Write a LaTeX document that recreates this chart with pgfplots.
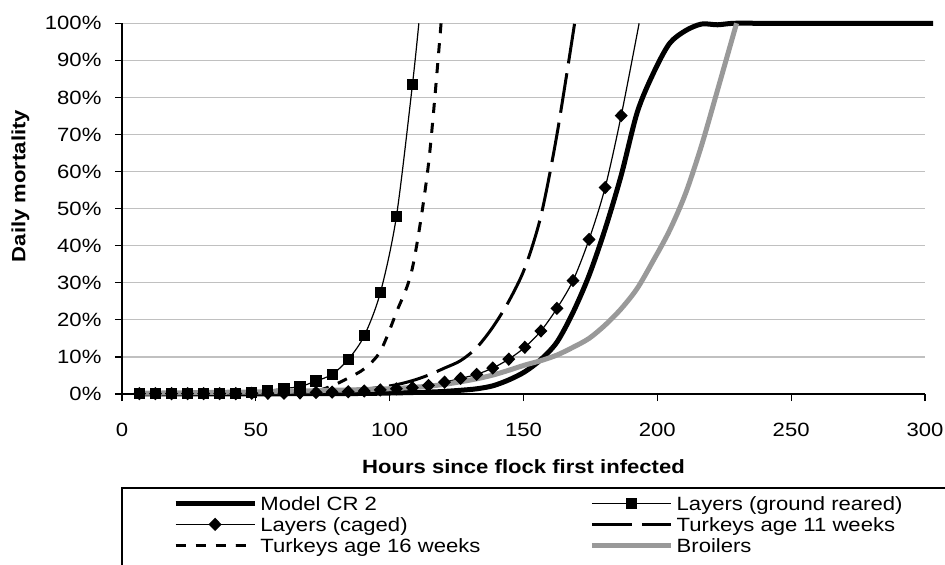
\documentclass[border=0pt]{standalone}
\usepackage{fontspec}
\setmainfont[FakeStretch=1.15]{Liberation Sans}
\usepackage{pgfplots}
\pgfplotsset{compat=1.18}
\definecolor{broiler}{HTML}{999999}
\definecolor{gridgray}{HTML}{C0C0C0}
\newcommand\chartfont{\fontsize{9.6bp}{11bp}\selectfont}

\begin{document}
\begin{tikzpicture}
\begin{axis}[
    at={(61bp,85.5bp)}, anchor=south west,
    scale only axis, width=401.5bp, height=185.35bp,
    xmin=0, xmax=300, ymin=0, ymax=100,
    xtick={0,50,...,300}, ytick={0,10,...,100},
    axis lines*=left,
    axis line style={black, line width=0.6bp},
    tick align=outside, major tick length=3.5bp,
    tick style={black, line width=0.6bp},
    ymajorgrids, grid style={gridgray, line width=0.6bp},
    clip=false,
    /pgf/number format/assume math mode=true,
    yticklabel={\pgfmathprintnumber{\tick}\%},
    ticklabel style={font=\chartfont},
    xticklabel style={anchor=center, inner sep=0pt, yshift=-14.5bp},
    yticklabel style={anchor=east, inner sep=0pt, xshift=-6.6bp},
    xlabel={\textbf{Hours since flock first infected}},
    ylabel={\textbf{Daily mortality}},
    every axis x label/.style={at={(rel axis cs:0.5,-0.1961)}, anchor=center, font=\chartfont},
    every axis y label/.style={at={(rel axis cs:-0.1264,0.561)}, rotate=90, anchor=center, font=\chartfont},
    legend columns=2,
    legend cell align=left,
    legend style={at={(rel axis cs:0,0)}, anchor=north west, yshift=-49.25bp,
        draw=none, fill=none, inner xsep=25.35bp, inner ysep=0pt,
        row sep=0pt, column sep=0pt,
        nodes={inner sep=0pt, text height=8.7bp, text depth=1.8bp, font=\chartfont},
        /tikz/every odd column/.append style={column sep=1.65bp}},
    legend image code/.code={\draw[#1, mark indices={2}]
        plot coordinates {(0bp,0bp) (19.75bp,0bp) (39.5bp,0bp)};},
    every axis plot/.append style={smooth, tension=0.5},
]
% Model CR 2
\addplot[black, line width=2.5bp] coordinates {
    (6.5,0.05) (18.5,0.05) (30.5,0.05) (42.5,0.05) (54.5,0.05) (66.5,0.08)
    (78.5,0.1) (90.5,0.15) (102.5,0.3) (108.5,0.4) (114.5,0.5) (120.5,0.7)
    (126.5,1.0) (132.5,1.4) (138.5,2.2) (144.5,3.8) (150.5,6.0) (156.5,9.3)
    (162.5,14.0) (168.5,22.0) (174.5,32.0) (180.5,44.5) (186.5,59.0)
    (192.5,76.0) (198.5,86.5) (204.5,94.5) (210.5,98.0) (216.5,99.8)
    (222.5,99.6) (228.5,100) (240,100) (260,100) (280,100) (303,100)
};
\addlegendentry{\makebox[164.5bp][l]{Model CR 2}}

% Layers (ground reared)
\addplot[black, line width=0.6bp, mark=square*, mark size=2.5bp,
    mark indices={1,...,18}] coordinates {
    (6.5,0.2) (12.5,0.2) (18.5,0.2) (24.5,0.2) (30.5,0.2) (36.5,0.2)
    (42.5,0.2) (48.5,0.4) (54.5,1.0) (60.5,1.5) (66.5,2.0) (72.5,3.5)
    (78.5,5.3) (84.5,9.3) (90.5,15.7) (96.5,27.3) (102.5,47.8) (108.5,83.4)
    (110.9,100)
};
\addlegendentry{\makebox[164.5bp][l]{Layers (ground reared)}}

% Layers (caged)
\addplot[black, line width=0.6bp, mark=diamond*, mark size=2.9bp,
    mark options={xscale=1.3}, mark indices={1,...,31}] coordinates {
    (6.5,0.1) (12.5,0.1) (18.5,0.1) (24.5,0.1) (30.5,0.1) (36.5,0.1)
    (42.5,0.1) (48.5,0.2) (54.5,0.2) (60.5,0.2) (66.5,0.3) (72.5,0.4)
    (78.5,0.5) (84.5,0.6) (90.5,0.8) (96.5,1.1) (102.5,1.4) (108.5,1.7)
    (114.5,2.3) (120.5,3.2) (126.5,4.2) (132.5,5.3) (138.5,7.0) (144.5,9.4)
    (150.5,12.6) (156.5,17.0) (162.5,23.1) (168.5,30.6) (174.5,41.7)
    (180.5,55.7) (186.5,75.1) (193.2,100)
};
\addlegendentry{\makebox[164.5bp][l]{Layers (caged)}}

% Turkeys age 11 weeks
\addplot[black, line width=1.5bp, dash pattern=on 20bp off 5bp] coordinates {
    (6.5,0.05) (30.5,0.05) (54.5,0.1) (66.5,0.2) (72.5,0.4) (78.5,0.6)
    (84.5,0.9) (90.5,1.3) (96.5,1.8) (102.5,2.5) (108.5,3.6) (114.5,5.1)
    (120.5,7.0) (126.5,9.0) (132.5,12.5) (138.5,18.0) (144.5,25.0)
    (150.5,34.0) (156.5,48.0) (162.5,70.0) (169.1,100)
};
\addlegendentry{\makebox[164.5bp][l]{Turkeys age 11 weeks}}

% Turkeys age 16 weeks
\addplot[black, line width=1.5bp, dash pattern=on 5bp off 5bp] coordinates {
    (6.5,0.05) (30.5,0.05) (54.5,0.05) (60.5,0.1) (66.5,0.3) (72.5,0.8)
    (78.5,2.2) (84.5,4.3) (90.5,6.8) (96.5,11.5) (102.5,22.0) (108.5,34.0)
    (114.5,62.0) (119.2,100)
};
\addlegendentry{\makebox[164.5bp][l]{Turkeys age 16 weeks}}

% Broilers
\addplot[broiler, line width=2.5bp] coordinates {
    (6.5,0.2) (18.5,0.3) (30.5,0.4) (42.5,0.5) (54.5,0.6) (66.5,0.8)
    (78.5,1.0) (90.5,1.2) (102.5,1.5) (108.5,1.8) (114.5,2.1) (120.5,2.6)
    (126.5,3.3) (132.5,4.1) (138.5,5.1) (144.5,6.4) (150.5,7.8) (156.5,9.0)
    (162.5,10.5) (168.5,12.6) (174.5,15.0) (180.5,18.6) (186.5,23.0)
    (192.5,28.5) (198.5,36.0) (204.5,44.0) (210.5,54.0) (216.5,67.0)
    (222.5,82.0) (229.6,100)
};
\addlegendentry{\makebox[164.5bp][l]{Broilers}}
\end{axis}
% legend frame, cut by the page edge on the right and at the bottom
\draw[black, line width=0.6bp] (61bp,-2bp) |- (480bp,38.5bp);
\pgfresetboundingbox
\useasboundingbox (0,0) rectangle (472.5bp,282.5bp);
\end{tikzpicture}
\end{document}
